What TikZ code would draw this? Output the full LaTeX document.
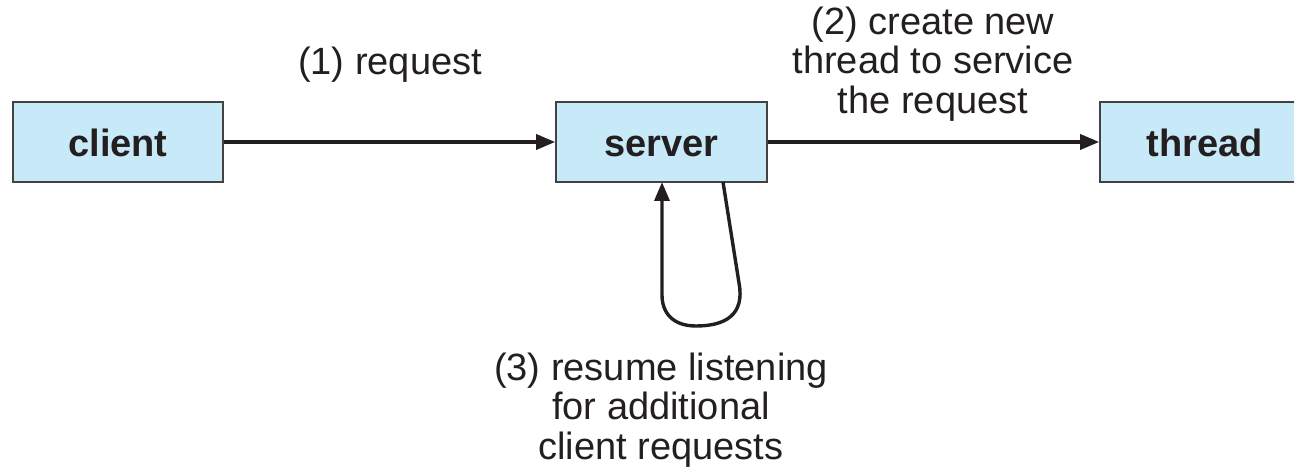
\documentclass[tikz,border=0pt]{standalone}
\usepackage{fontspec}
\setmainfont{Liberation Sans}
\usetikzlibrary{arrows.meta}
\definecolor{boxfill}{HTML}{C7E9F8}
\definecolor{ink}{HTML}{231F20}
\begin{document}
\begin{tikzpicture}[x=0.5pt,y=-0.5pt,
  proc/.style={draw=ink!85, line width=0.8pt, fill=boxfill, minimum height=40pt, inner sep=0pt,
     text height=14.5pt, text depth=0pt,
     font=\fontsize{19}{19.5}\selectfont\bfseries, text=ink},
  lbl/.style={align=center, font=\fontsize{19}{19.6}\selectfont, text=ink, inner sep=0pt},
  conn/.style={draw=ink, line width=1.7pt, -{Triangle[length=9.5pt,width=7.5pt]}}]
\useasboundingbox (0,0) rectangle (1294,469);
\node[proc, minimum width=105pt] (client) at (118,142) {client};
\node[proc, minimum width=105.5pt] (server) at (661.5,142) {server};
\node[proc, minimum width=105pt] (thread) at (1205,142) {thread};
\node[lbl] (l1) at (390,65) {(1) request};
\node[lbl] (l2) at (933,64) {(2) create new\\thread to service\\the request};
\node[lbl] (l3) at (661,410) {(3) resume listening\\for additional\\client requests};
\draw[conn] (client) -- (server);
\draw[conn] (server) -- (thread);
\coordinate (lpout) at (723,182);
\coordinate (lpin) at (662,182);
\draw[conn] (lpout) -- (739,283) .. controls (745,315) and (725,326) .. (696,326)
   .. controls (672,326) and (662,312) .. (662,295) -- (lpin);
\end{tikzpicture}
\end{document}
